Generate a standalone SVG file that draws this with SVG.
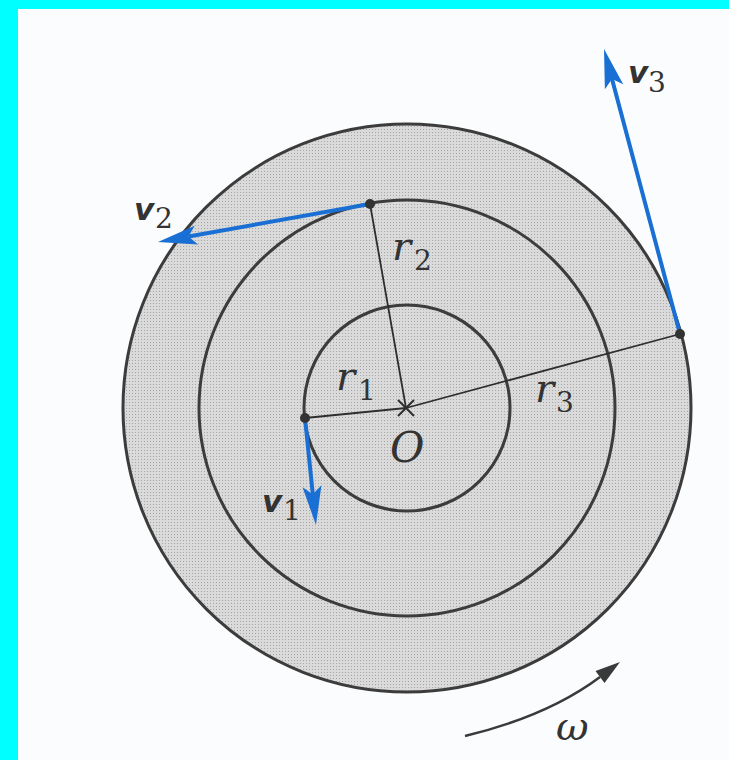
<svg xmlns="http://www.w3.org/2000/svg" width="729" height="760" viewBox="0 0 729 760">
<style>
.ring{fill:none;stroke:#3c3c3c;stroke-width:3}
.rad{stroke:#2e2e2e;stroke-width:1.8;fill:none}
.vec{stroke:#1a6fd4;stroke-width:4;fill:none;stroke-linecap:butt}
.dot{fill:#333}
</style>
<defs>
<pattern id="dots" width="3" height="3" patternUnits="userSpaceOnUse">
<rect width="3" height="3" fill="#dadada"/>
<rect width="1" height="1" fill="#a6a6a6"/>
</pattern>
<marker id="bh" markerUnits="userSpaceOnUse" markerWidth="42" markerHeight="22" viewBox="0 -11 42 22" refX="8" refY="0" orient="auto" overflow="visible">
<path d="M0,-9.5 L39,0 L0,9.5 L8,0 Z" fill="#1a6fd4"/>
</marker>
<marker id="wh" markerUnits="userSpaceOnUse" markerWidth="26" markerHeight="16" viewBox="0 -8 26 16" refX="0" refY="0" orient="auto" overflow="visible">
<path d="M0,-7.5 L25,0 L0,7.5 Z" fill="#3a3a3a"/>
</marker>
</defs>
<rect x="0" y="0" width="729" height="760" fill="#fafcfd"/>
<rect x="0" y="0" width="729" height="9" fill="#00ffff"/>
<rect x="0" y="0" width="18" height="760" fill="#00ffff"/>

<g id="disc">
<circle cx="407" cy="408" r="284" fill="url(#dots)"/>
<circle class="ring" cx="407" cy="408" r="284"/>
<circle class="ring" cx="407" cy="408" r="208"/>
<circle class="ring" cx="407" cy="408" r="103"/>
</g>

<g id="connectors">
<line class="rad" x1="406" y1="408" x2="305" y2="418"/>
<line class="rad" x1="406" y1="408" x2="370" y2="204"/>
<line class="rad" x1="406" y1="408" x2="680" y2="334"/>
<line class="vec" x1="305" y1="418" x2="312.8" y2="494.2" marker-end="url(#bh)"/>
<line class="vec" x1="370" y1="204" x2="188.5" y2="236.5" marker-end="url(#bh)"/>
<line class="vec" x1="680" y1="334" x2="612" y2="79" marker-end="url(#bh)"/>
<path d="M465,736 Q548,716 600,677" fill="none" stroke="#3a3a3a" stroke-width="2.5" marker-end="url(#wh)"/>
</g>

<g id="O">
<path d="M398,400 L414,416 M414,400 L398,416" stroke="#2e2e2e" stroke-width="2" fill="none"/>
<text x="390" y="462" font-family="'DejaVu Serif', serif" font-style="italic" font-size="42" fill="#333">O</text>
</g>
<g id="P1"><circle class="dot" cx="305" cy="418" r="5"/></g>
<g id="P2"><circle class="dot" cx="370" cy="204" r="5"/></g>
<g id="P3"><circle class="dot" cx="680" cy="334" r="5"/></g>

<g id="labels" fill="#333">
<g font-family="'DejaVu Sans', sans-serif" font-weight="bold" font-style="italic" font-size="31">
<text x="262" y="512">v</text>
<text x="134" y="220">v</text>
<text x="628" y="83">v</text>
</g>
<g font-family="'DejaVu Serif', serif" font-size="28">
<text x="283" y="520">1</text>
<text x="155" y="228">2</text>
<text x="648" y="92">3</text>
<text x="358" y="400">1</text>
<text x="414" y="270">2</text>
<text x="556" y="412">3</text>
</g>
<g font-family="'DejaVu Serif', serif" font-style="italic" font-size="40">
<text x="336" y="390">r</text>
<text x="392" y="260">r</text>
<text x="535" y="402">r</text>
<text x="556" y="740" font-size="40">ω</text>
</g>
</g>
</svg>
